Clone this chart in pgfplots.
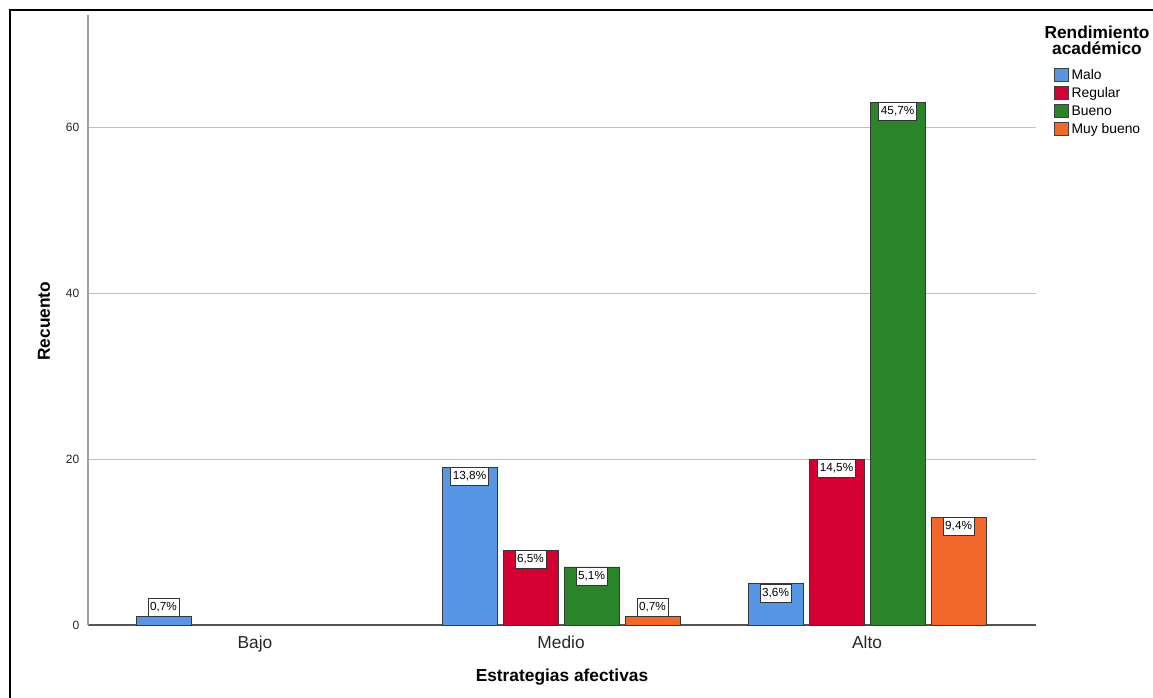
\documentclass[border=0pt]{standalone}
\usepackage{pgfplots}
\pgfplotsset{compat=1.18}
\usepackage{pgfplotstable}
\usepackage{fontspec}
\setmainfont{Liberation Sans}
\definecolor{cMalo}{RGB}{86,150,229}
\definecolor{cRegular}{RGB}{212,0,50}
\definecolor{cBueno}{RGB}{42,133,42}
\definecolor{cMuy}{RGB}{242,104,42}
\definecolor{gridc}{RGB}{192,192,192}
\definecolor{leftax}{RGB}{160,160,160}
\definecolor{botax}{RGB}{85,85,85}

% x: 0 = Bajo, 1 = Medio, 2 = Alto; y = count; lab = percentage of total
\pgfplotstableread{
x y lab
1 19 13,8
2 5 3,6
}\malo
\pgfplotstableread{
x y lab
0 1 0,7
}\maloBajo
\pgfplotstableread{
x y lab
1 9 6,5
2 20 14,5
}\regular
\pgfplotstableread{
x y lab
1 7 5,1
2 63 45,7
}\bueno
\pgfplotstableread{
x y lab
2 13 9,4
}\muybueno
\pgfplotstableread{
x y lab
1 1 0,7
}\muybuenoMedio

\pgfplotsset{
  mybar/.style 2 args={ybar, bar width=0.1797, bar shift=#1, draw=black!78, line width=0.6pt,
    point meta=explicit symbolic,
    nodes near coords={\pgfplotspointmeta\%},
    every node near coord/.append style={font=\fontsize{8.8}{10}\selectfont, text=black, fill=white,
      draw=black!80, line width=0.6pt, inner xsep=1.6pt, inner ysep=2.5pt,
      text height=6.6pt, text depth=2pt, anchor=#2, xshift=#1*229.52pt},
    forget plot},
  legsq/.style={legend image code/.code={\draw[fill=#1, draw=black!75, line width=0.6pt] (0pt,-3.8pt) rectangle (10.5pt,5.9pt); \path (12.5pt,0pt);}},
}

\begin{document}
\begin{tikzpicture}
\useasboundingbox (0,0) rectangle (864.75pt,522.75pt);
\draw[line width=1.5pt] (7.5pt,-5pt) -- (7.5pt,515.25pt) -- (870pt,515.25pt);
\begin{axis}[
  at={(66pt,54pt)}, anchor=south west,
  scale only axis, width=711pt, height=457.5pt,
  xmin=-0.5458, xmax=2.552, ymin=0, ymax=73.5,
  axis x line*=bottom, axis y line*=left,
  x axis line style={draw=botax, line width=0.8pt},
  y axis line style={draw=leftax, line width=0.8pt},
  xtick={0,1,2}, xticklabels={Bajo,Medio,Alto},
  ytick={0,20,40,60},
  major tick length=0pt,
  ymajorgrids, grid style={draw=gridc, line width=0.75pt},
  /pgf/number format/assume math mode=true,
  yticklabel style={font=\fontsize{9}{10}\selectfont, text=black!85, xshift=-3pt},
  xticklabel style={font=\fontsize{13}{14}\selectfont, text=black!85, yshift=-4.3pt},
  xlabel={Estrategias afectivas},
  ylabel={Recuento},
  xlabel style={font=\bfseries\fontsize{13}{14}\selectfont, at={(axis description cs:0.5,0)}, anchor=center, yshift=-39pt},
  ylabel style={font=\bfseries\fontsize{13}{14}\selectfont, at={(axis description cs:-0.0464,0.498)}, anchor=center},
  legend style={at={(axis description cs:1.019,0.9139)}, anchor=north west, draw=none, fill=none,
    font=\fontsize{10.4}{11}\selectfont, row sep=2.6pt, inner sep=0pt,
    nodes={inner sep=0pt, text height=7.5pt, text depth=2pt}},
  legend cell align=left,
]
\addplot[mybar={-0.299}{north}, fill=cMalo] table[x=x, y=y, meta=lab] {\malo};
\addplot[mybar={-0.299}{south}, fill=cMalo] table[x=x, y=y, meta=lab] {\maloBajo};
\addplot[mybar={-0.0997}{north}, fill=cRegular] table[x=x, y=y, meta=lab] {\regular};
\addplot[mybar={0.0997}{north}, fill=cBueno] table[x=x, y=y, meta=lab] {\bueno};
\addplot[mybar={0.299}{north}, fill=cMuy] table[x=x, y=y, meta=lab] {\muybueno};
\addplot[mybar={0.299}{south}, fill=cMuy] table[x=x, y=y, meta=lab] {\muybuenoMedio};
\addlegendimage{legsq=cMalo}
\addlegendentry{Malo}
\addlegendimage{legsq=cRegular}
\addlegendentry{Regular}
\addlegendimage{legsq=cBueno}
\addlegendentry{Bueno}
\addlegendimage{legsq=cMuy}
\addlegendentry{Muy bueno}
\end{axis}
\node[font=\bfseries\fontsize{13}{11.5}\selectfont, align=center] at (822.75pt,492.4pt) {Rendimiento\\académico};
\end{tikzpicture}
\end{document}
